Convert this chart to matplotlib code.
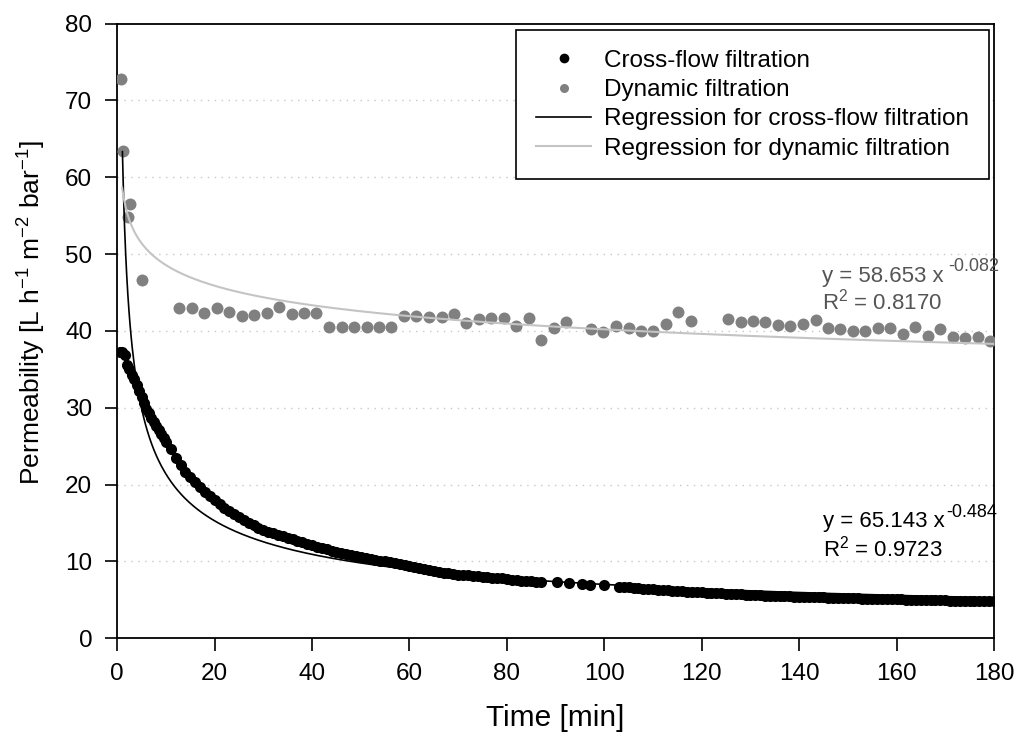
import matplotlib
matplotlib.use('Agg')
import matplotlib.pyplot as plt
from matplotlib.lines import Line2D
import numpy as np

plt.rcParams['font.family'] = ['Liberation Sans', 'DejaVu Sans']
plt.rcParams['mathtext.fontset'] = 'custom'
plt.rcParams['mathtext.rm'] = 'Liberation Sans'
plt.rcParams['mathtext.it'] = 'Liberation Sans:italic'
plt.rcParams['mathtext.bf'] = 'Liberation Sans:bold'

# ---------------- data ----------------
cf_time = [0.5, 1.0, 1.5, 2.0, 2.5, 3.0, 3.5, 4.0, 4.5, 5.0, 5.5, 6.0, 6.5, 7.0, 7.5, 8.0, 8.5, 9.0, 9.5, 10.0,
           11, 12, 13, 14, 15, 16, 17, 18, 19, 20, 21, 22, 23, 24, 25, 26, 27, 28, 29, 30,
           31, 32, 33, 34, 35, 36, 37, 38, 39, 40, 41, 42, 43, 44, 45, 46, 47, 48, 49, 50,
           51, 52, 53, 54, 55, 56, 57, 58, 59, 60, 61, 62, 63, 64, 65, 66, 67, 68, 69, 70,
           71, 72, 73, 74, 75, 76, 77, 78, 79, 80, 81, 82, 83, 84, 85, 86, 87,
           90.2, 92.8, 95.4, 97.1, 99.9,
           103, 104, 105, 106, 107, 108, 109, 110, 111, 112, 113, 114, 115, 116, 117, 118, 119, 120,
           121, 122, 123, 124, 125, 126, 127, 128, 129, 130, 131, 132, 133, 134, 135, 136, 137, 138, 139, 140,
           141, 142, 143, 144, 145, 146, 147, 148, 149, 150, 151, 152, 153, 154, 155, 156, 157, 158, 159, 160,
           161, 162, 163, 164, 165, 166, 167, 168, 169, 170, 171, 172, 173, 174, 175, 176, 177, 178, 179, 180]
cf_perm = [37.3, 37.2, 36.9, 35.6, 35.0, 34.3, 33.8, 33.0, 32.2, 31.4, 30.6, 29.9, 29.3, 28.7, 28.2, 27.6, 27.1, 26.6, 26.1, 25.6,
           24.6, 23.5, 22.5, 21.7, 21.0, 20.3, 19.7, 19.1, 18.5, 18.0, 17.5, 17.0, 16.6, 16.2, 15.8, 15.4, 15.0, 14.7, 14.4, 14.1,
           13.9, 13.7, 13.5, 13.3, 13.1, 12.9, 12.7, 12.5, 12.3, 12.1, 11.9, 11.75, 11.6, 11.4, 11.25, 11.1, 10.95, 10.8, 10.7, 10.55,
           10.45, 10.3, 10.2, 10.1, 10.0, 9.9, 9.8, 9.7, 9.55, 9.45, 9.3, 9.15, 9.0, 8.85, 8.7, 8.6, 8.5, 8.45, 8.4, 8.3,
           8.25, 8.2, 8.1, 8.05, 8.0, 7.95, 7.9, 7.85, 7.8, 7.7, 7.65, 7.6, 7.5, 7.45, 7.4, 7.35, 7.3,
           7.35, 7.15, 7.05, 6.95, 6.92,
           6.72, 6.67, 6.62, 6.57, 6.52, 6.47, 6.43, 6.38, 6.34, 6.29, 6.25, 6.21, 6.16, 6.12, 6.08, 6.05, 6.01, 5.98,
           5.94, 5.91, 5.87, 5.84, 5.80, 5.77, 5.74, 5.71, 5.68, 5.65, 5.62, 5.60, 5.57, 5.55, 5.52, 5.50, 5.48, 5.46, 5.44, 5.42,
           5.40, 5.38, 5.36, 5.35, 5.33, 5.31, 5.29, 5.27, 5.26, 5.24, 5.22, 5.20, 5.18, 5.17, 5.15, 5.13, 5.12, 5.10, 5.08, 5.07,
           5.06, 5.04, 5.03, 5.01, 5.00, 4.99, 4.97, 4.96, 4.94, 4.93, 4.92, 4.91, 4.89, 4.88, 4.87, 4.86, 4.84, 4.83, 4.82, 4.80]

dyn_time = [0.75, 1.25, 2.25, 2.6, 5.0,
            12.7, 15.3, 17.9, 20.4, 23.0, 25.6, 28.1, 30.7, 33.2, 35.8, 38.4, 40.9,
            43.5, 46.1, 48.6, 51.2, 53.8, 56.3, 58.9, 61.4, 64.0, 66.6, 69.1, 71.7,
            74.2, 76.8, 79.4, 81.9, 84.5, 87.1, 89.6, 92.2, 97.3, 99.8, 102.4, 105.0,
            107.5, 110.1, 112.7, 115.2, 117.8,
            125.4, 128.0, 130.6, 133.1, 135.7, 138.2, 140.8, 143.4, 145.9, 148.5, 151.0,
            153.6, 156.2, 158.7, 161.3, 163.8, 166.4, 169.0, 171.5, 174.1, 176.7, 179.2]
dyn_perm = [72.8, 63.4, 54.8, 56.5, 46.6,
            43.0, 43.0, 42.3, 43.0, 42.4, 41.95, 42.1, 42.3, 43.1, 42.2, 42.3, 42.3,
            40.5, 40.5, 40.5, 40.5, 40.5, 40.5, 41.9, 41.95, 41.8, 41.8, 42.2, 41.0,
            41.6, 41.7, 41.7, 40.6, 41.65, 38.8, 40.4, 41.2, 40.2, 39.8, 40.6, 40.4,
            40.0, 40.0, 40.9, 42.4, 41.3,
            41.5, 41.1, 41.35, 41.2, 40.8, 40.6, 40.9, 41.4, 40.35, 40.25, 40.05,
            40.05, 40.35, 40.35, 39.6, 40.5, 39.4, 40.25, 39.2, 39.05, 39.2, 38.7]

# power-law regressions y = a * x^b
cf_a, cf_b, cf_r2 = 65.143, -0.484, 0.9723
dyn_a, dyn_b, dyn_r2 = 58.653, -0.082, 0.8170

x_ticks = [0, 20, 40, 60, 80, 100, 120, 140, 160, 180]
y_ticks = [0, 10, 20, 30, 40, 50, 60, 70, 80]

labels = ['Cross-flow filtration', 'Dynamic filtration',
          'Regression for cross-flow filtration', 'Regression for dynamic filtration']

# ---------------- figure ----------------
fig = plt.figure(figsize=(10.17, 7.40), dpi=100)
ax = fig.add_axes([0.1153, 0.1374, 0.862, 0.8308])

ax.plot(cf_time, cf_perm, 'o', color='black', markersize=8.0, markeredgewidth=0, zorder=3)
ax.plot(dyn_time, dyn_perm, 'o', color='#808080', markersize=8.6, markeredgewidth=0, zorder=3)

xr_cf = np.linspace(1.06, 180, 800)
xr_dyn = np.linspace(1.0, 180, 800)
ax.plot(xr_cf, cf_a * xr_cf ** cf_b, color='black', lw=1.2, zorder=4)
ax.plot(xr_dyn, dyn_a * xr_dyn ** dyn_b, color='#c4c4c4', lw=1.5, zorder=4)

ax.set_xlim(0, 180)
ax.set_ylim(0, 80)
ax.set_xticks(x_ticks)
ax.set_yticks(y_ticks)
ax.tick_params(axis='both', direction='out', length=9, width=1.2, labelsize=17.5, color='black')
ax.tick_params(axis='x', pad=9)
ax.tick_params(axis='y', pad=9)
for s in ax.spines.values():
    s.set_linewidth(1.3)
    s.set_color('black')

for yv in y_ticks[1:-1]:
    ax.axhline(yv, color='#c8c8c8', lw=1.0, linestyle=(0, (1, 4)), zorder=1)

ax.set_xlabel('Time [min]', fontsize=21.5, va='center')
ax.xaxis.set_label_coords(0.5, -0.1296)
ax.set_ylabel(r'Permeability [L h$\mathregular{^{-1}}$ m$\mathregular{^{-2}}$ bar$\mathregular{^{-1}}$]',
              fontsize=19, va='center')
ax.yaxis.set_label_coords(-0.0973, 0.53)

# regression annotations
ax.text(0.8035, 0.588, f'y = {dyn_a:.3f} x', transform=ax.transAxes, fontsize=16, color='#555555',
        ha='left', va='center')
ax.text(0.9475, 0.6044, f'{dyn_b:.3f}', transform=ax.transAxes, fontsize=13, color='#555555',
        ha='left', va='center')
ax.text(0.8035, 0.5475, r'R$\mathregular{^2}$' + f' = {dyn_r2:.4f}', transform=ax.transAxes, fontsize=16,
        color='#555555', ha='left', va='center')

ax.text(0.8056, 0.1897, f'y = {cf_a:.3f} x', transform=ax.transAxes, fontsize=16, color='black',
        ha='left', va='center')
ax.text(0.9457, 0.205, f'{cf_b:.3f}', transform=ax.transAxes, fontsize=13, color='black',
        ha='left', va='center')
ax.text(0.8056, 0.1464, r'R$\mathregular{^2}$' + f' = {cf_r2:.4f}', transform=ax.transAxes, fontsize=16,
        color='black', ha='left', va='center')

handles = [Line2D([], [], marker='o', ls='none', color='black', markersize=7, markeredgewidth=0),
           Line2D([], [], marker='o', ls='none', color='#808080', markersize=6.5, markeredgewidth=0),
           Line2D([], [], color='black', lw=1.2),
           Line2D([], [], color='#c4c4c4', lw=1.5)]
leg = ax.legend(handles, labels, loc='upper right', bbox_to_anchor=(0.994, 0.9894), borderaxespad=0,
                fontsize=17.5, frameon=True, fancybox=False, edgecolor='black', framealpha=1,
                handlelength=2.26, handletextpad=0.53, labelspacing=0.30, borderpad=0.81)
leg.get_frame().set_linewidth(1.2)

fig.savefig('out.png', dpi=100)
